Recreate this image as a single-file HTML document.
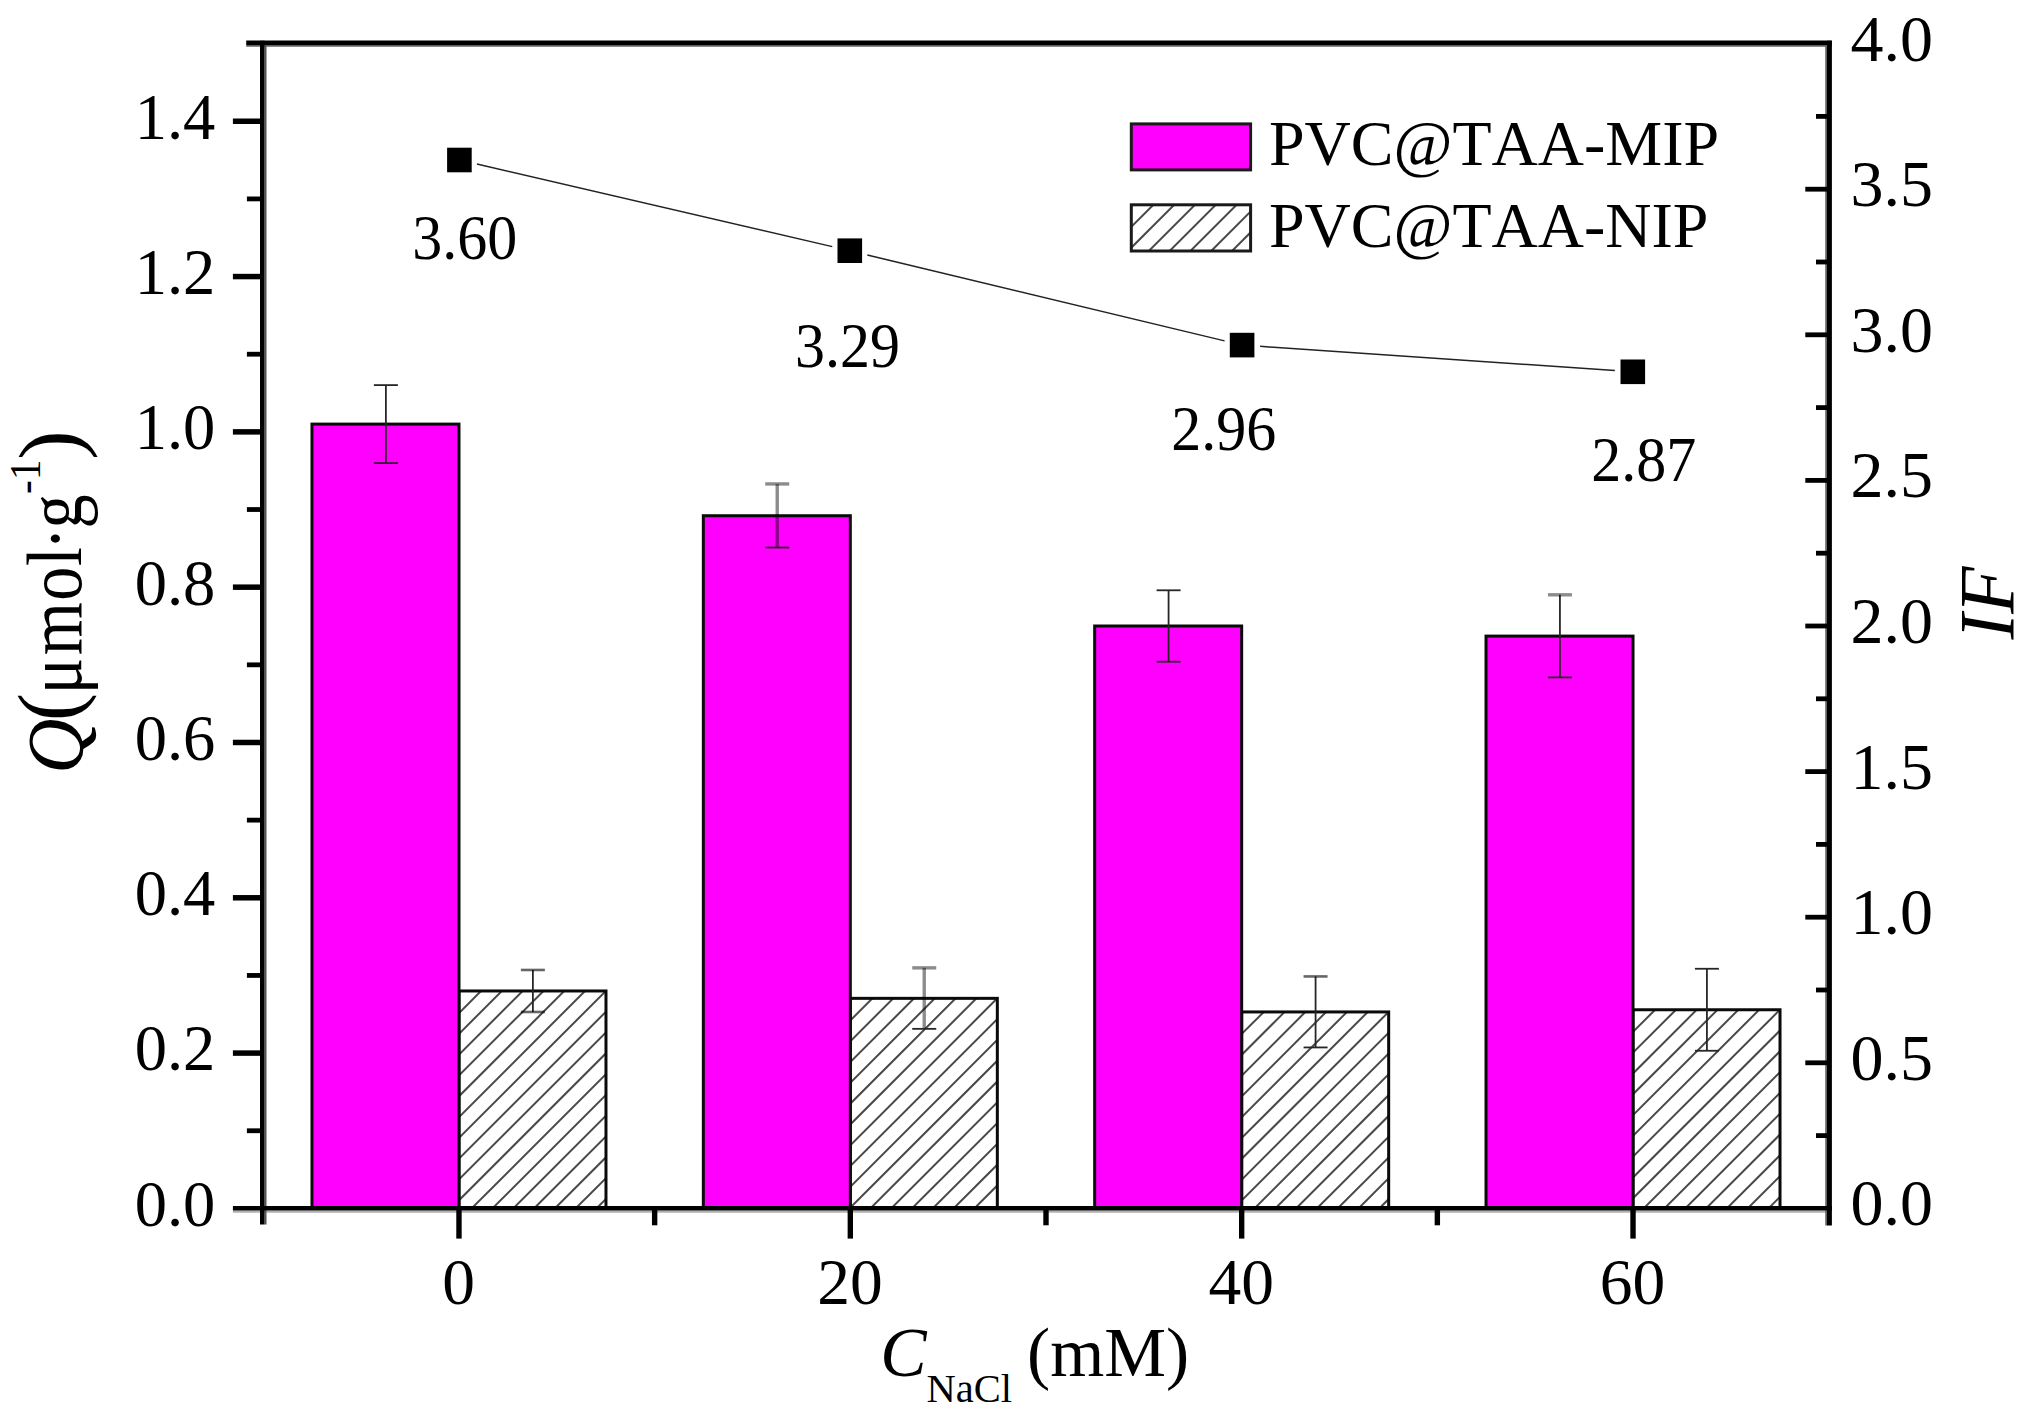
<!DOCTYPE html>
<html lang="en"><head><meta charset="utf-8"><title>Chart</title>
<style>html,body{margin:0;padding:0;background:#fff}svg{display:block}text{font-kerning:none;font-variant-ligatures:none}</style>
</head><body>
<svg width="2033" height="1425" viewBox="0 0 2033 1425" font-family="'Liberation Serif', serif" fill="#000">
<rect width="2033" height="1425" fill="#fff"/>
<defs>
<clipPath id="c0"><rect x="458.98" y="990.97" width="147.0" height="217.43"/></clipPath>
<clipPath id="c1"><rect x="850.33" y="998.35" width="147.0" height="210.05"/></clipPath>
<clipPath id="c2"><rect x="1241.67" y="1011.94" width="147.0" height="196.46"/></clipPath>
<clipPath id="c3"><rect x="1633.02" y="1009.76" width="147.0" height="198.64"/></clipPath>
<clipPath id="cl"><rect x="1131.3" y="204.8" width="119.3" height="46.2"/></clipPath>
</defs>
<rect x="458.98" y="990.97" width="147.0" height="217.43" fill="#fff"/>
<g clip-path="url(#c0)" stroke="#484848" stroke-width="2.0"><line x1="456.98" y1="994.27" x2="462.27" y2="988.97"/><line x1="456.98" y1="1015.07" x2="483.07" y2="988.97"/><line x1="456.98" y1="1035.87" x2="503.87" y2="988.97"/><line x1="456.98" y1="1056.67" x2="524.68" y2="988.97"/><line x1="456.98" y1="1077.47" x2="545.48" y2="988.97"/><line x1="456.98" y1="1098.27" x2="566.27" y2="988.97"/><line x1="456.98" y1="1119.07" x2="587.07" y2="988.97"/><line x1="456.98" y1="1139.87" x2="607.87" y2="988.97"/><line x1="456.98" y1="1160.67" x2="628.68" y2="988.97"/><line x1="456.98" y1="1181.47" x2="649.48" y2="988.97"/><line x1="456.98" y1="1202.27" x2="670.27" y2="988.97"/><line x1="456.98" y1="1223.07" x2="691.07" y2="988.97"/><line x1="456.98" y1="1243.87" x2="711.87" y2="988.97"/><line x1="456.98" y1="1264.67" x2="732.68" y2="988.97"/><line x1="456.98" y1="1285.47" x2="753.48" y2="988.97"/><line x1="456.98" y1="1306.27" x2="774.27" y2="988.97"/><line x1="456.98" y1="1327.07" x2="795.07" y2="988.97"/><line x1="456.98" y1="1347.87" x2="815.87" y2="988.97"/></g>
<rect x="458.98" y="990.97" width="147.0" height="217.43" fill="none" stroke="#0a0a0a" stroke-width="3.0"/>
<rect x="311.98" y="424.10" width="147.0" height="784.30" fill="#ff00ff" stroke="#0a0a0a" stroke-width="3.0"/>
<rect x="850.33" y="998.35" width="147.0" height="210.05" fill="#fff"/>
<g clip-path="url(#c1)" stroke="#484848" stroke-width="2.0"><line x1="848.33" y1="1001.65" x2="853.62" y2="996.35"/><line x1="848.33" y1="1022.45" x2="874.42" y2="996.35"/><line x1="848.33" y1="1043.25" x2="895.22" y2="996.35"/><line x1="848.33" y1="1064.05" x2="916.02" y2="996.35"/><line x1="848.33" y1="1084.85" x2="936.82" y2="996.35"/><line x1="848.33" y1="1105.65" x2="957.62" y2="996.35"/><line x1="848.33" y1="1126.45" x2="978.42" y2="996.35"/><line x1="848.33" y1="1147.25" x2="999.22" y2="996.35"/><line x1="848.33" y1="1168.05" x2="1020.02" y2="996.35"/><line x1="848.33" y1="1188.85" x2="1040.82" y2="996.35"/><line x1="848.33" y1="1209.65" x2="1061.62" y2="996.35"/><line x1="848.33" y1="1230.45" x2="1082.42" y2="996.35"/><line x1="848.33" y1="1251.25" x2="1103.22" y2="996.35"/><line x1="848.33" y1="1272.05" x2="1124.02" y2="996.35"/><line x1="848.33" y1="1292.85" x2="1144.82" y2="996.35"/><line x1="848.33" y1="1313.65" x2="1165.62" y2="996.35"/><line x1="848.33" y1="1334.45" x2="1186.42" y2="996.35"/><line x1="848.33" y1="1355.25" x2="1207.22" y2="996.35"/></g>
<rect x="850.33" y="998.35" width="147.0" height="210.05" fill="none" stroke="#0a0a0a" stroke-width="3.0"/>
<rect x="703.33" y="515.73" width="147.0" height="692.67" fill="#ff00ff" stroke="#0a0a0a" stroke-width="3.0"/>
<rect x="1241.67" y="1011.94" width="147.0" height="196.46" fill="#fff"/>
<g clip-path="url(#c2)" stroke="#484848" stroke-width="2.0"><line x1="1239.67" y1="1015.24" x2="1244.97" y2="1009.94"/><line x1="1239.67" y1="1036.04" x2="1265.78" y2="1009.94"/><line x1="1239.67" y1="1056.84" x2="1286.57" y2="1009.94"/><line x1="1239.67" y1="1077.64" x2="1307.38" y2="1009.94"/><line x1="1239.67" y1="1098.44" x2="1328.17" y2="1009.94"/><line x1="1239.67" y1="1119.24" x2="1348.97" y2="1009.94"/><line x1="1239.67" y1="1140.04" x2="1369.78" y2="1009.94"/><line x1="1239.67" y1="1160.84" x2="1390.57" y2="1009.94"/><line x1="1239.67" y1="1181.64" x2="1411.38" y2="1009.94"/><line x1="1239.67" y1="1202.44" x2="1432.17" y2="1009.94"/><line x1="1239.67" y1="1223.24" x2="1452.97" y2="1009.94"/><line x1="1239.67" y1="1244.04" x2="1473.78" y2="1009.94"/><line x1="1239.67" y1="1264.84" x2="1494.57" y2="1009.94"/><line x1="1239.67" y1="1285.64" x2="1515.38" y2="1009.94"/><line x1="1239.67" y1="1306.44" x2="1536.17" y2="1009.94"/><line x1="1239.67" y1="1327.24" x2="1556.97" y2="1009.94"/><line x1="1239.67" y1="1348.04" x2="1577.78" y2="1009.94"/></g>
<rect x="1241.67" y="1011.94" width="147.0" height="196.46" fill="none" stroke="#0a0a0a" stroke-width="3.0"/>
<rect x="1094.67" y="626.00" width="147.0" height="582.40" fill="#ff00ff" stroke="#0a0a0a" stroke-width="3.0"/>
<rect x="1633.02" y="1009.76" width="147.0" height="198.64" fill="#fff"/>
<g clip-path="url(#c3)" stroke="#484848" stroke-width="2.0"><line x1="1631.02" y1="1013.06" x2="1636.33" y2="1007.76"/><line x1="1631.02" y1="1033.86" x2="1657.13" y2="1007.76"/><line x1="1631.02" y1="1054.66" x2="1677.93" y2="1007.76"/><line x1="1631.02" y1="1075.46" x2="1698.73" y2="1007.76"/><line x1="1631.02" y1="1096.26" x2="1719.53" y2="1007.76"/><line x1="1631.02" y1="1117.06" x2="1740.33" y2="1007.76"/><line x1="1631.02" y1="1137.86" x2="1761.13" y2="1007.76"/><line x1="1631.02" y1="1158.66" x2="1781.93" y2="1007.76"/><line x1="1631.02" y1="1179.46" x2="1802.73" y2="1007.76"/><line x1="1631.02" y1="1200.26" x2="1823.53" y2="1007.76"/><line x1="1631.02" y1="1221.06" x2="1844.33" y2="1007.76"/><line x1="1631.02" y1="1241.86" x2="1865.13" y2="1007.76"/><line x1="1631.02" y1="1262.66" x2="1885.93" y2="1007.76"/><line x1="1631.02" y1="1283.46" x2="1906.73" y2="1007.76"/><line x1="1631.02" y1="1304.26" x2="1927.53" y2="1007.76"/><line x1="1631.02" y1="1325.06" x2="1948.33" y2="1007.76"/><line x1="1631.02" y1="1345.86" x2="1969.13" y2="1007.76"/></g>
<rect x="1633.02" y="1009.76" width="147.0" height="198.64" fill="none" stroke="#0a0a0a" stroke-width="3.0"/>
<rect x="1486.02" y="636.09" width="147.0" height="572.31" fill="#ff00ff" stroke="#0a0a0a" stroke-width="3.0"/>
<path d="M385.88 385.10V463.10" stroke="#262626" stroke-width="1.8" fill="none"/><path d="M373.88 385.10H397.88" stroke="#262626" stroke-width="1.8" fill="none"/><path d="M373.88 463.10H397.88" stroke="#262626" stroke-width="1.8" fill="none"/>
<path d="M532.88 969.97V1011.97" stroke="#262626" stroke-width="1.8" fill="none"/><path d="M520.88 969.97H544.88" stroke="#000" stroke-opacity=".6" stroke-width="2.6" fill="none"/><path d="M520.88 1011.97H544.88" stroke="#000" stroke-opacity=".6" stroke-width="2.6" fill="none"/>
<path d="M777.23 483.93V547.53" stroke="#000" stroke-opacity=".45" stroke-width="3.4" fill="none"/><path d="M765.23 483.93H789.23" stroke="#000" stroke-opacity=".45" stroke-width="3.4" fill="none"/><path d="M765.23 547.53H789.23" stroke="#262626" stroke-width="1.8" fill="none"/>
<path d="M924.23 967.85V1028.85" stroke="#000" stroke-opacity=".45" stroke-width="3.4" fill="none"/><path d="M912.23 967.85H936.23" stroke="#000" stroke-opacity=".45" stroke-width="3.4" fill="none"/><path d="M912.23 1028.85H936.23" stroke="#262626" stroke-width="1.8" fill="none"/>
<path d="M1168.58 590.30V661.70" stroke="#262626" stroke-width="1.8" fill="none"/><path d="M1156.58 590.30H1180.58" stroke="#262626" stroke-width="1.8" fill="none"/><path d="M1156.58 661.70H1180.58" stroke="#262626" stroke-width="1.8" fill="none"/>
<path d="M1315.58 976.44V1047.44" stroke="#262626" stroke-width="1.8" fill="none"/><path d="M1303.58 976.44H1327.58" stroke="#000" stroke-opacity=".6" stroke-width="2.6" fill="none"/><path d="M1303.58 1047.44H1327.58" stroke="#262626" stroke-width="1.8" fill="none"/>
<path d="M1559.92 594.79V677.39" stroke="#262626" stroke-width="1.8" fill="none"/><path d="M1547.92 594.79H1571.92" stroke="#000" stroke-opacity=".45" stroke-width="3.4" fill="none"/><path d="M1547.92 677.39H1571.92" stroke="#262626" stroke-width="1.8" fill="none"/>
<path d="M1706.92 968.76V1050.76" stroke="#262626" stroke-width="1.8" fill="none"/><path d="M1694.92 968.76H1718.92" stroke="#262626" stroke-width="1.8" fill="none"/><path d="M1694.92 1050.76H1718.92" stroke="#262626" stroke-width="1.8" fill="none"/>
<line x1="246.2" y1="45.9" x2="1831.9" y2="45.9" stroke="#606060" stroke-width="1.8"/>
<line x1="232.9" y1="1211.65" x2="1827" y2="1211.65" stroke="#b0b0b0" stroke-width="2.1"/>
<line x1="265.5" y1="45" x2="265.5" y2="1224.5" stroke="#555" stroke-width="2"/>
<line x1="1826.1" y1="45" x2="1826.1" y2="1225.5" stroke="#666" stroke-width="1.8"/>
<g stroke="#000" fill="none">
<line x1="246.2" y1="42.75" x2="1831.9" y2="42.75" stroke-width="4.5"/>
<line x1="232.9" y1="1208.3" x2="1831.9" y2="1208.3" stroke-width="4.6"/>
<line x1="262.25" y1="40.7" x2="262.25" y2="1224.5" stroke-width="4.5"/>
<line x1="1829.45" y1="40.7" x2="1829.45" y2="1225.5" stroke-width="4.9"/>
</g>
<g stroke="#000" stroke-width="5.6" fill="none">
<line x1="246.9" y1="1130.75" x2="263.3" y2="1130.75" stroke-width="4.8"/>
<line x1="232.9" y1="1053.09" x2="263.3" y2="1053.09" stroke-width="5.5"/>
<line x1="246.9" y1="975.44" x2="263.3" y2="975.44" stroke-width="4.8"/>
<line x1="232.9" y1="897.79" x2="263.3" y2="897.79" stroke-width="5.5"/>
<line x1="246.9" y1="820.13" x2="263.3" y2="820.13" stroke-width="4.8"/>
<line x1="232.9" y1="742.48" x2="263.3" y2="742.48" stroke-width="5.5"/>
<line x1="246.9" y1="664.83" x2="263.3" y2="664.83" stroke-width="4.8"/>
<line x1="232.9" y1="587.17" x2="263.3" y2="587.17" stroke-width="5.5"/>
<line x1="246.9" y1="509.52" x2="263.3" y2="509.52" stroke-width="4.8"/>
<line x1="232.9" y1="431.87" x2="263.3" y2="431.87" stroke-width="5.5"/>
<line x1="246.9" y1="354.21" x2="263.3" y2="354.21" stroke-width="4.8"/>
<line x1="232.9" y1="276.56" x2="263.3" y2="276.56" stroke-width="5.5"/>
<line x1="246.9" y1="198.91" x2="263.3" y2="198.91" stroke-width="4.8"/>
<line x1="232.9" y1="121.25" x2="263.3" y2="121.25" stroke-width="5.5"/>
<line x1="1816.0" y1="1135.60" x2="1828.7" y2="1135.60" stroke-width="4.8"/>
<line x1="1805.3" y1="1062.80" x2="1828.7" y2="1062.80" stroke-width="4.8"/>
<line x1="1816.0" y1="990.00" x2="1828.7" y2="990.00" stroke-width="4.8"/>
<line x1="1805.3" y1="917.20" x2="1828.7" y2="917.20" stroke-width="4.8"/>
<line x1="1816.0" y1="844.40" x2="1828.7" y2="844.40" stroke-width="4.8"/>
<line x1="1805.3" y1="771.60" x2="1828.7" y2="771.60" stroke-width="4.8"/>
<line x1="1816.0" y1="698.80" x2="1828.7" y2="698.80" stroke-width="4.8"/>
<line x1="1805.3" y1="626.00" x2="1828.7" y2="626.00" stroke-width="4.8"/>
<line x1="1816.0" y1="553.20" x2="1828.7" y2="553.20" stroke-width="4.8"/>
<line x1="1805.3" y1="480.40" x2="1828.7" y2="480.40" stroke-width="4.8"/>
<line x1="1816.0" y1="407.60" x2="1828.7" y2="407.60" stroke-width="4.8"/>
<line x1="1805.3" y1="334.80" x2="1828.7" y2="334.80" stroke-width="4.8"/>
<line x1="1816.0" y1="262.00" x2="1828.7" y2="262.00" stroke-width="4.8"/>
<line x1="1805.3" y1="189.20" x2="1828.7" y2="189.20" stroke-width="4.8"/>
<line x1="1816.0" y1="116.40" x2="1828.7" y2="116.40" stroke-width="4.8"/>
<line x1="458.98" y1="1208.4" x2="458.98" y2="1238.6" stroke-width="5.4"/>
<line x1="654.65" y1="1208.4" x2="654.65" y2="1225.3" stroke-width="5.4"/>
<line x1="850.33" y1="1208.4" x2="850.33" y2="1238.6" stroke-width="5.4"/>
<line x1="1046.00" y1="1208.4" x2="1046.00" y2="1225.3" stroke-width="5.4"/>
<line x1="1241.67" y1="1208.4" x2="1241.67" y2="1238.6" stroke-width="5.4"/>
<line x1="1437.35" y1="1208.4" x2="1437.35" y2="1225.3" stroke-width="5.4"/>
<line x1="1633.02" y1="1208.4" x2="1633.02" y2="1238.6" stroke-width="5.4"/>
</g>
<text x="215.3" y="1225.80" font-size="64.5" text-anchor="end">0.0</text>
<text x="215.3" y="1070.49" font-size="64.5" text-anchor="end">0.2</text>
<text x="215.3" y="915.19" font-size="64.5" text-anchor="end">0.4</text>
<text x="215.3" y="759.88" font-size="64.5" text-anchor="end">0.6</text>
<text x="215.3" y="604.57" font-size="64.5" text-anchor="end">0.8</text>
<text x="215.3" y="449.27" font-size="64.5" text-anchor="end">1.0</text>
<text x="215.3" y="293.96" font-size="64.5" text-anchor="end">1.2</text>
<text x="215.3" y="138.65" font-size="64.5" text-anchor="end">1.4</text>
<text x="1850.4" y="1225.40" font-size="66">0.0</text>
<text x="1850.4" y="1079.80" font-size="66">0.5</text>
<text x="1850.4" y="934.20" font-size="66">1.0</text>
<text x="1850.4" y="788.60" font-size="66">1.5</text>
<text x="1850.4" y="643.00" font-size="66">2.0</text>
<text x="1850.4" y="497.40" font-size="66">2.5</text>
<text x="1850.4" y="351.80" font-size="66">3.0</text>
<text x="1850.4" y="206.20" font-size="66">3.5</text>
<text x="1850.4" y="60.60" font-size="66">4.0</text>
<text x="458.58" y="1304.4" font-size="65.5" text-anchor="middle">0</text>
<text x="849.93" y="1304.4" font-size="65.5" text-anchor="middle">20</text>
<text x="1241.27" y="1304.4" font-size="65.5" text-anchor="middle">40</text>
<text x="1632.62" y="1304.4" font-size="65.5" text-anchor="middle">60</text>
<line x1="476.93" y1="164.07" x2="832.27" y2="246.63" stroke="#222" stroke-width="1.5"/>
<line x1="867.30" y1="254.91" x2="1224.60" y2="340.89" stroke="#222" stroke-width="1.5"/>
<line x1="1260.06" y1="346.33" x2="1614.84" y2="370.57" stroke="#222" stroke-width="1.5"/>
<rect x="447.10" y="147.70" width="24.6" height="24.6" fill="#000"/>
<rect x="837.50" y="238.40" width="24.6" height="24.6" fill="#000"/>
<rect x="1229.80" y="332.80" width="24.6" height="24.6" fill="#000"/>
<rect x="1620.50" y="359.50" width="24.6" height="24.6" fill="#000"/>
<text transform="translate(464.7,258.7) scale(1,1.06)" font-size="60" text-anchor="middle">3.60</text>
<text transform="translate(847.5,366.6) scale(1,1.06)" font-size="60" text-anchor="middle">3.29</text>
<text transform="translate(1223.8,450.1) scale(1,1.06)" font-size="60" text-anchor="middle">2.96</text>
<text transform="translate(1643.7,481.1) scale(1,1.06)" font-size="60" text-anchor="middle">2.87</text>
<rect x="1131.3" y="123.9" width="119.3" height="46.0" fill="#ff00ff" stroke="#1a1a1a" stroke-width="3"/>
<rect x="1131.3" y="204.8" width="119.3" height="46.2" fill="#fff"/>
<g clip-path="url(#cl)" stroke="#484848" stroke-width="2.0"><line x1="1129.30" y1="208.10" x2="1134.60" y2="202.80"/><line x1="1129.30" y1="228.90" x2="1155.40" y2="202.80"/><line x1="1129.30" y1="249.70" x2="1176.20" y2="202.80"/><line x1="1129.30" y1="270.50" x2="1197.00" y2="202.80"/><line x1="1129.30" y1="291.30" x2="1217.80" y2="202.80"/><line x1="1129.30" y1="312.10" x2="1238.60" y2="202.80"/><line x1="1129.30" y1="332.90" x2="1259.40" y2="202.80"/><line x1="1129.30" y1="353.70" x2="1280.20" y2="202.80"/></g>
<rect x="1131.3" y="204.8" width="119.3" height="46.2" fill="none" stroke="#1a1a1a" stroke-width="3"/>
<text x="1269" y="164.8" font-size="64">PVC@TAA-MIP</text>
<text x="1269" y="247.0" font-size="64">PVC@TAA-NIP</text>
<text x="880.2" y="1375.6" font-size="69.5"><tspan font-style="italic">C</tspan><tspan font-size="40.5" dy="26.8">NaCl</tspan><tspan dy="-26.8" dx="-2.4"> (mM)</tspan></text>
<text transform="translate(83.32,773.77) rotate(-90) scale(1.0933,1.1345)" font-size="70" font-style="italic">Q</text>
<text transform="translate(78.22,721.0) rotate(-90) scale(1.0667,1.093)" font-size="79">(</text>
<text transform="translate(81.4,694.29) rotate(-90) scale(0.9974,1.1361)" font-size="68.5" dx="0 2.5 1.3 0.7 -3.1 -1.4">μmol·g</text>
<text transform="translate(40.4,494.01) rotate(-90) scale(1.0097,1.0692)" font-size="41">-1</text>
<text transform="translate(78.55,459.64) rotate(-90) scale(1.119,1.1028)" font-size="79">)</text>
<text transform="translate(2012.6,639.4) rotate(-90) scale(1.0739,1.0851)" font-size="72" font-style="italic">IF</text>
</svg>
</body></html>
